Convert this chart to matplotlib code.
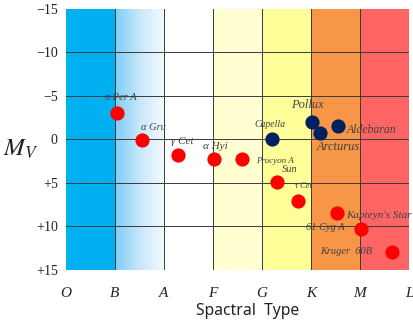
import numpy as np
import matplotlib.pyplot as plt
from matplotlib.colors import LinearSegmentedColormap

# spectral classes (band edges) and magnitude ticks
classes = ["O", "B", "A", "F", "G", "K", "M", "L"]
mag_ticks = [-15, -10, -5, 0, 5, 10, 15]
mag_labels = ["\u221215", "\u221210", "\u22125", "0", "+5", "+10", "+15"]

# main-sequence / hot stars (red)
red_names = ["\u03c3 Per A", "\u03b1 Gru", "\u03b3 Cet", "\u03b1 Hyi", "Procyon A",
             "Sun", "\u03c4 Cet", "Kapteyn's Star", "61 Cyg A", "Kruger  60B"]
red_type = [1.04, 1.55, 2.29, 3.02, 3.59, 4.31, 4.73, 5.53, 6.02, 6.65]
red_mag = [-3.1, 0.1, 1.8, 2.2, 2.2, 4.9, 7.1, 8.4, 10.3, 12.9]

# giants (navy)
giant_names = ["Capella", "Pollux", "Arcturus", "Aldebaran"]
giant_type = [4.2, 5.02, 5.18, 5.55]
giant_mag = [0.0, -2.0, -0.7, -1.6]

band_colors = ["#00b0f0", None, "#ffffff", "#ffffd2", "#ffff99", "#f79646", "#ff6565"]

# label offsets in points (dx, dy) and sizes
red_off = [(3, 11), (8, 9), (3, 10), (1, 9), (24, -2), (9, 9), (4, 11), (30, -2), (-26, 1), (-33, 0)]
red_fs = [7.5, 7.5, 8, 8, 6.5, 7.5, 6, 8, 7.5, 7.5]
giant_off = [(-1, 11), (-3, 12), (13, -10), (24, -3)]
giant_fs = [7, 9, 9, 8.5]

fig = plt.figure(figsize=(4.14, 3.21), dpi=100)
ax = fig.add_axes([0.1594, 0.159, 0.8286, 0.813])

for i, c in enumerate(band_colors):
    if c is not None:
        ax.axvspan(i, i + 1, color=c, lw=0, zorder=0)
grad = LinearSegmentedColormap.from_list("b", ["#7fcdf5", "#c8e8fb", "#f4faff"])
ax.imshow(np.linspace(0, 1, 100)[None, :], cmap=grad, aspect="auto",
          extent=[1, 2, 15, -15], zorder=0)

for x in range(1, 7):
    ax.axvline(x, color="#3a3a3a", lw=0.7, zorder=1)
for y in [-10, -5, 0, 5, 10]:
    ax.axhline(y, color="#3a3a3a", lw=0.7, zorder=1)

ax.scatter(red_type, red_mag, s=105, color="#ff0000", zorder=3, lw=0)
ax.scatter(giant_type, giant_mag, s=105, color="#002060", zorder=3, lw=0)

for n, x, y, o, f in zip(red_names, red_type, red_mag, red_off, red_fs):
    ax.annotate(n, (x, y), xytext=o, textcoords="offset points", ha="center", va="center",
                fontsize=f, style="italic", family="Liberation Serif", color="#404040", zorder=4)
for n, x, y, o, f in zip(giant_names, giant_type, giant_mag, giant_off, giant_fs):
    ax.annotate(n, (x, y), xytext=o, textcoords="offset points", ha="center", va="center",
                fontsize=f, style="italic", family="Liberation Serif", color="#404040", zorder=4)

ax.set_xlim(0, 7)
ax.set_ylim(15, -15)
ax.set_xticks(range(8))
ax.set_xticklabels(classes, family="Liberation Serif", style="italic", fontsize=11, color="#222222")
ax.set_yticks(mag_ticks)
ax.set_yticklabels(mag_labels, family="Liberation Serif", fontsize=10, color="#222222")
ax.tick_params(length=0)
ax.tick_params(axis="y", pad=6)
ax.tick_params(axis="x", pad=12)
for s in ax.spines.values():
    s.set_visible(False)

ax.set_xlabel("Spactral  Type", family="Noto Sans", fontsize=11.3, color="#222222")
ax.xaxis.set_label_coords(0.53, -0.125)
fig.text(0.05, 0.535, "$M_V$", fontsize=18, ha="center", va="center",
         color="#222222", math_fontfamily="stix")

fig.savefig("out.png", dpi=100)
